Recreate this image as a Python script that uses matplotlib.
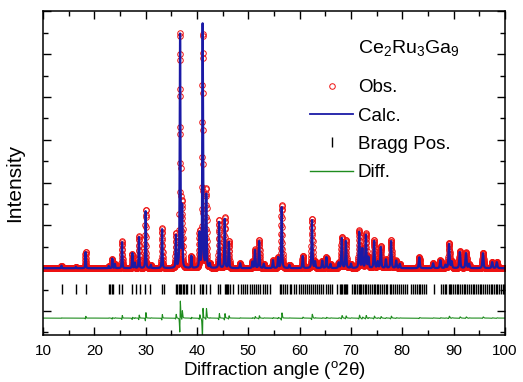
import numpy as np
import matplotlib
matplotlib.use("Agg")
import matplotlib.pyplot as plt
from matplotlib.lines import Line2D
from matplotlib.ticker import MultipleLocator

plt.rcParams["font.family"] = ["Liberation Sans", "DejaVu Sans"]
plt.rcParams["mathtext.fontset"] = "custom"
plt.rcParams["mathtext.rm"] = "Liberation Sans"
plt.rcParams["mathtext.it"] = "Liberation Sans:italic"

# reflections: position (deg 2theta) and height above background
peak_pos = [13.6, 16.4, 18.3, 22.8, 23.5, 24.0, 25.4, 27.4, 27.9, 28.7,
            30.0, 31.0, 33.2, 35.9, 36.7, 37.1, 38.9, 40.5, 41.1, 41.8,
            42.5, 44.3, 45.4, 46.2, 48.4, 50.8, 51.3, 52.1, 53.0, 54.8,
            55.8, 56.5, 58.0, 60.6, 62.4, 63.0, 64.4, 65.2, 66.0, 67.6,
            68.2, 69.0, 70.0, 71.6, 72.2, 72.9, 73.4, 74.5, 75.2, 75.8,
            76.8, 77.8, 78.8, 79.5, 83.3, 86.0, 87.4, 88.4, 89.1, 89.6,
            91.2, 92.4, 93.0, 95.7, 97.5, 98.4]
calc_height = [120, 60, 750, 100, 450, 200, 1215, 700, 250, 1450,
               2660, 150, 1820, 1500, 10900, 2800, 560, 1600, 11400, 3400,
               200, 2150, 2290, 1215, 230, 300, 840, 1260, 200, 370,
               500, 2850, 150, 560, 2240, 300, 350, 510, 200, 250,
               1400, 1260, 200, 1680, 900, 1540, 500, 1260, 300, 980,
               400, 1260, 350, 200, 510, 230, 370, 150, 1120, 300,
               750, 700, 200, 700, 280, 280]
obs_height = [120, 60, 780, 100, 430, 200, 1260, 680, 250, 1500,
              2760, 150, 1880, 1600, 11000, 3000, 560, 1680, 11000, 3700,
              200, 2250, 2380, 1260, 230, 300, 870, 1310, 200, 370,
              500, 2960, 150, 580, 2320, 300, 350, 520, 200, 250,
              1460, 1310, 200, 1750, 900, 1600, 500, 1300, 300, 1010,
              400, 1300, 350, 200, 510, 230, 370, 150, 1170, 300,
              780, 730, 200, 730, 280, 280]

# Bragg reflection positions (deg 2theta)
bragg_pos = [13.7, 16.5, 18.4, 22.8, 23.1, 23.4, 23.7, 24.9, 25.4, 27.3,
             28.2, 28.9, 29.9, 30.8, 33.2, 33.5, 36.0, 36.2, 36.5, 36.7,
             36.9, 37.2, 37.5, 37.8, 38.1, 38.8, 39.5, 40.5, 40.9, 41.2,
             41.7, 42.5, 44.1, 44.4, 45.4, 45.7, 45.9, 46.1, 46.4, 47.0,
             47.9, 48.5, 48.9, 49.4, 49.8, 50.3, 50.7, 51.2, 51.5, 51.9,
             52.3, 52.8, 53.3, 53.7, 54.2, 56.2, 56.4, 56.7, 57.1, 57.6,
             58.1, 58.4, 58.9, 59.3, 59.8, 60.3, 60.6, 61.0, 61.4, 61.9,
             62.3, 62.5, 62.9, 63.4, 63.8, 64.2, 64.6, 65.1, 65.5, 65.9,
             66.3, 67.2, 67.9, 68.1, 68.3, 68.6, 68.8, 69.0, 69.3, 70.1,
             70.5, 70.8, 71.2, 71.5, 71.7, 72.0, 72.3, 72.7, 73.0, 73.3,
             73.7, 74.1, 74.4, 74.6, 75.0, 75.3, 75.7, 76.1, 76.4, 76.8,
             77.1, 77.5, 77.8, 78.2, 78.6, 79.0, 79.3, 79.8, 80.2, 80.6,
             80.9, 81.7, 82.1, 82.4, 82.8, 83.2, 83.5, 83.9, 84.3, 84.7,
             86.2, 87.6, 87.9, 88.3, 88.6, 89.0, 89.2, 89.5, 89.9, 90.2,
             90.6, 90.9, 91.3, 91.6, 92.0, 92.3, 92.6, 93.0, 93.3, 93.7,
             94.0, 94.4, 94.7, 95.1, 95.4, 95.8, 96.1, 96.5, 96.8, 97.2,
             97.5, 97.8, 98.2, 98.5, 98.9, 99.2, 99.6, 99.9]

background = 2000
diff_offset = -330
bragg_level = 1030
obs_shift = 0.008

two_theta = np.arange(10, 100.001, 0.02)


def profile(x, heights, shift=0.0):
    y = np.full_like(x, background, dtype=float)
    for p, h in zip(peak_pos, heights):
        w = 0.12 + 0.0015 * (p - 10)
        d = (x - p - shift) / (w / 2)
        y += h * (0.5 / (1 + d ** 2) + 0.5 * np.exp(-np.log(2) * d ** 2))
    return y


obs = profile(two_theta, obs_height, obs_shift)
calc = profile(two_theta, calc_height)
diff = obs - calc + diff_offset

red = "#ee1111"
blue = "#1a1aa6"
green = "#1e8c1e"

fig = plt.figure(figsize=(5.23, 3.82), dpi=100)
ax = fig.add_axes([0.0822, 0.123, 0.8834, 0.8482])

ax.plot(two_theta, obs, ls="none", marker="o", ms=4.0, mfc="none", mec=red, mew=0.7)
ax.plot(two_theta, calc, color=blue, lw=1.6)
ax.plot(bragg_pos, [bragg_level] * len(bragg_pos), ls="none", marker="|",
        ms=7, mew=1.0, color="black")
ax.plot(two_theta, diff, color=green, lw=0.8)

ax.set_xlim(10, 100)
ax.set_ylim(-1121, 14019)
ax.xaxis.set_major_locator(MultipleLocator(10))
ax.xaxis.set_minor_locator(MultipleLocator(5))
ax.yaxis.set_major_locator(MultipleLocator(2000))
ax.yaxis.set_minor_locator(MultipleLocator(1000))
ax.tick_params(which="both", direction="in", top=True, right=True, width=1.0)
ax.tick_params(which="major", length=5.5)
ax.tick_params(which="minor", length=3.5)
ax.tick_params(axis="x", labelsize=11, pad=6.5)
ax.tick_params(axis="y", labelleft=False)
for s in ax.spines.values():
    s.set_linewidth(1.1)

ax.set_xlabel("Diffraction angle ($^{\\rm o}$2θ)", fontsize=13.5, labelpad=0.5)
ax.set_ylabel("Intensity", fontsize=15)
ax.yaxis.set_label_coords(-0.04, 0.47)

ax.text(0.682, 0.886, "Ce$_2$Ru$_3$Ga$_9$", transform=ax.transAxes,
        fontsize=14, va="center")

handles = [
    Line2D([], [], ls="none", marker="o", ms=4.0, mfc="none", mec=red, mew=0.7),
    Line2D([], [], color=blue, lw=1.3),
    Line2D([], [], ls="none", marker="|", ms=7, mew=1.0, color="black"),
    Line2D([], [], color=green, lw=1.0),
]
ax.legend(handles, ["Obs.", "Calc.", "Bragg Pos.", "Diff."], loc="upper left",
          bbox_to_anchor=(0.578, 0.79), frameon=False, fontsize=13.5,
          handlelength=2.3, handletextpad=0.25, labelspacing=0.6,
          borderpad=0, borderaxespad=0)

fig.savefig("out.png", dpi=100)
